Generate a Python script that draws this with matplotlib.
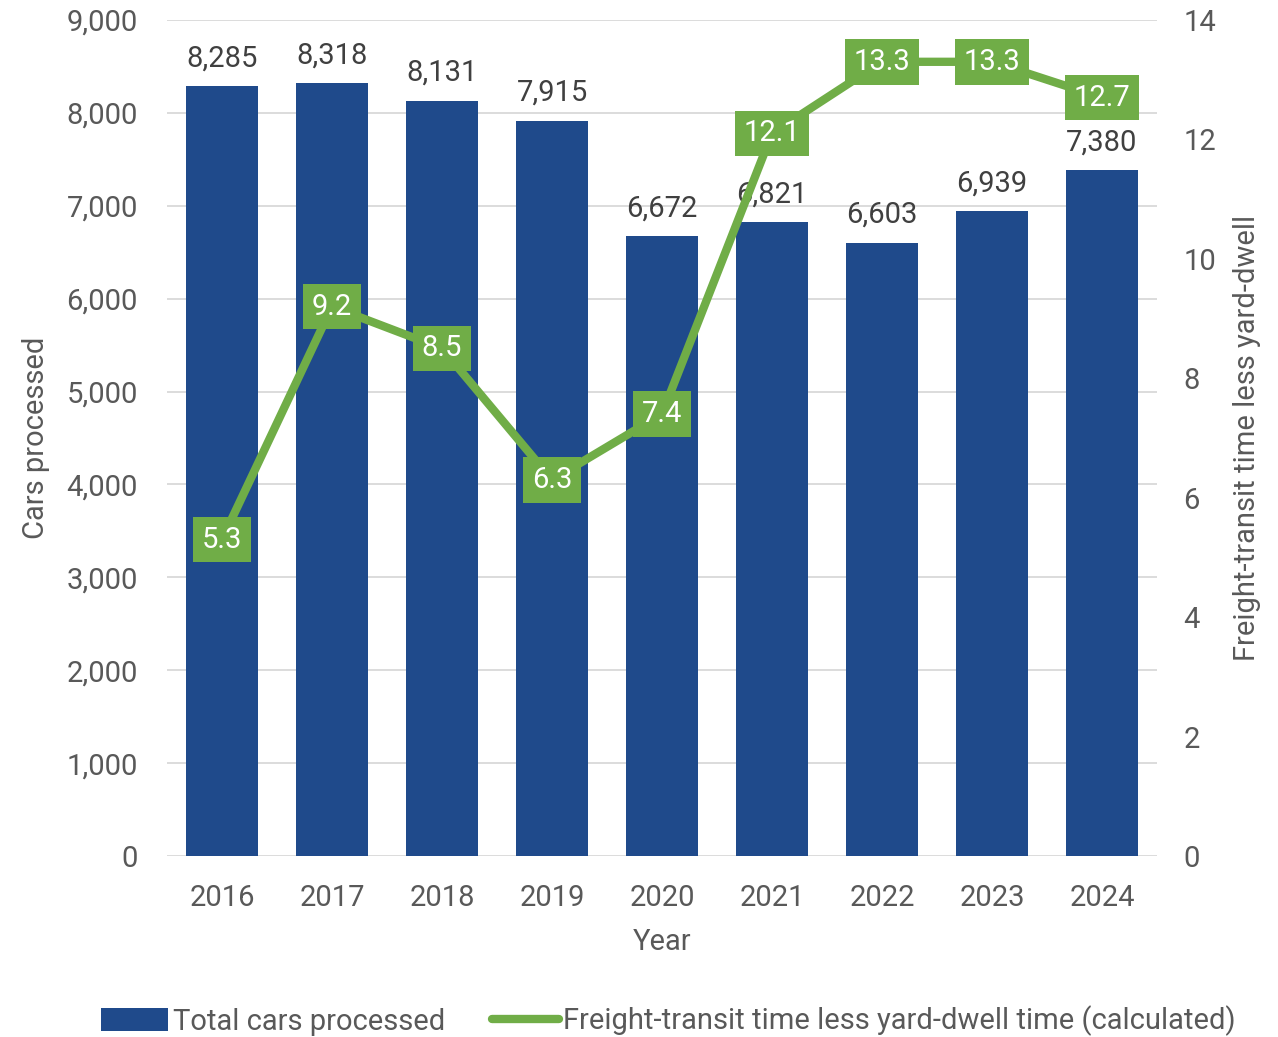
import matplotlib
matplotlib.use("Agg")
import matplotlib.pyplot as plt
from matplotlib.lines import Line2D
from matplotlib.patches import Patch
import numpy as np

years = ["2016", "2017", "2018", "2019", "2020", "2021", "2022", "2023", "2024"]
cars = [8285, 8318, 8131, 7915, 6672, 6821, 6603, 6939, 7380]
transit = [5.3, 9.2, 8.5, 6.3, 7.4, 12.1, 13.3, 13.3, 12.7]

BLUE = "#1F4A8B"
GREEN = "#70AD47"
GREY = "#595959"
TXT = "#404040"
FS = 21

plt.rcParams["font.family"] = ["Roboto", "DejaVu Sans"]

fig = plt.figure(figsize=(12.78, 10.37), dpi=100)
ax = fig.add_axes([167/1278, 1-856/1037, (1157-167)/1278, (856-20)/1037])
ax2 = ax.twinx()

x = np.arange(len(years))
ax.bar(x, cars, width=0.65, color=BLUE, zorder=2)
ax.set_ylim(0, 9000)
ax.set_xlim(-0.5, len(years)-0.5)
ax.set_yticks(range(0, 9001, 1000))
ax.set_yticklabels([f"{v:,}" for v in range(0, 9001, 1000)])
ax.set_xticks(x)
ax.set_xticklabels(years)
ax.grid(axis="y", color="#D9D9D9", linewidth=1.3, zorder=0)
ax.set_axisbelow(True)
for s in ax.spines.values():
    s.set_visible(False)
for s in ax2.spines.values():
    s.set_visible(False)
ax.tick_params(axis="both", length=0, labelsize=FS, colors=GREY)
ax.tick_params(axis="x", pad=20)
ax.tick_params(axis="y", pad=21)
ax.set_xlabel("Year", fontsize=FS, color=GREY, labelpad=12)
ax.set_ylabel("Cars processed", fontsize=FS, color=GREY, labelpad=12)

for xi, v in zip(x, cars):
    ax.annotate(f"{v:,}", (xi, v), xytext=(0, 10), textcoords="offset points",
                ha="center", va="bottom", fontsize=FS, color=TXT, zorder=5)

ax2.set_ylim(0, 14)
ax2.set_yticks(range(0, 15, 2))
ax2.tick_params(axis="y", length=0, labelsize=FS, colors=GREY, pad=19)
ax2.set_ylabel("Freight-transit time less yard-dwell", fontsize=FS, color=GREY, labelpad=12)
ax2.plot(x, transit, color=GREEN, linewidth=6, solid_capstyle="round",
         solid_joinstyle="round", zorder=3)
for xi, v in zip(x, transit):
    ax2.text(xi, v, f"{v:.1f}", ha="center", va="center", fontsize=FS, color="white",
             bbox=dict(boxstyle="square,pad=0.3", facecolor=GREEN, edgecolor="none"),
             zorder=4)

handles = [Patch(facecolor=BLUE, edgecolor="none"),
           Line2D([0], [0], color=GREEN, linewidth=6, solid_capstyle="round")]
fig.legend(handles, ["Total cars processed",
                     "Freight-transit time less yard-dwell time (calculated)"],
           loc="center", bbox_to_anchor=(0.523, 1-1021/1037), ncol=2, frameon=False,
           fontsize=FS, labelcolor=GREY, handlelength=2.3, handletextpad=0.15,
           columnspacing=1.6, handleheight=0.8)

fig.savefig("out.png", dpi=100)
